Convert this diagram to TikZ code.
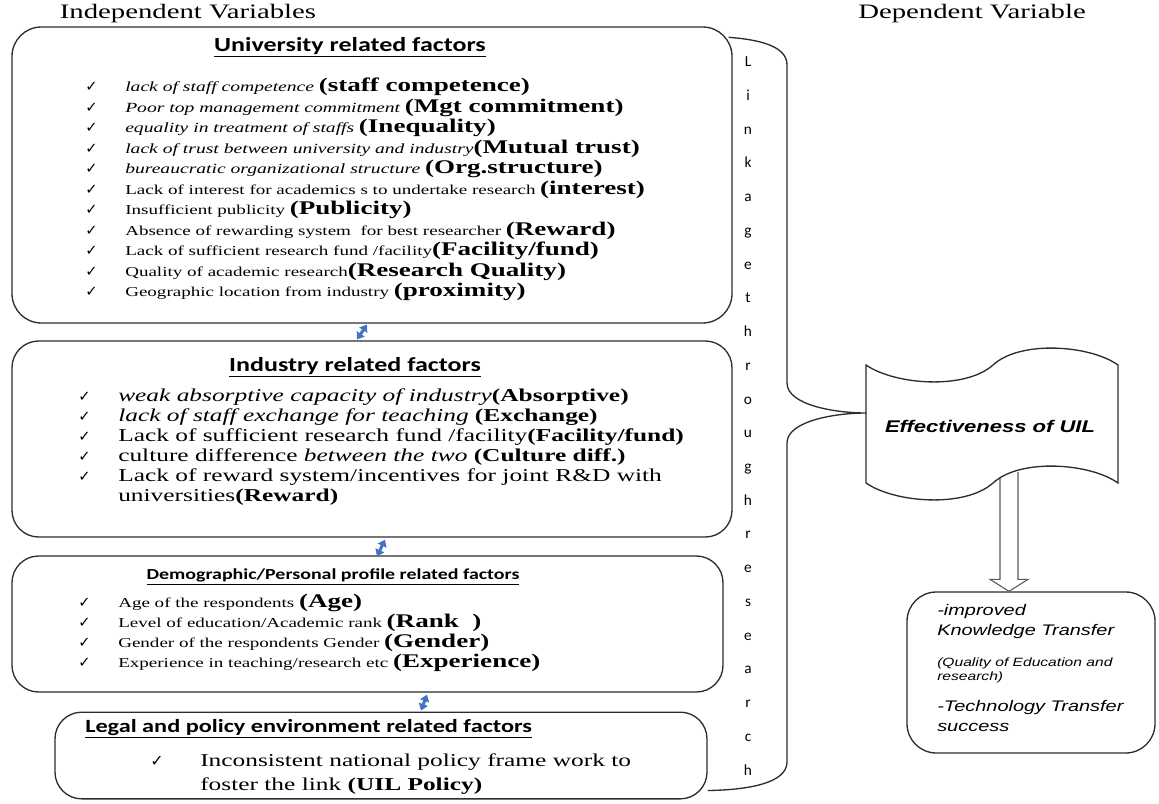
\documentclass[tikz,border=0pt]{standalone}
\usepackage{fontspec}
\setmainfont{Liberation Serif}[FakeStretch=1.4]
\newfontfamily\calibrifont{Carlito}[FakeStretch=1.3]
\newfontfamily\arialfont{Liberation Sans}[FakeStretch=1.3]
\newfontfamily\linkfont{Carlito}
\newfontfamily\tickfont{DejaVu Sans}
\usetikzlibrary{arrows.meta,calc}

\definecolor{linkblue}{RGB}{68,114,196}
\definecolor{boxline}{RGB}{45,45,45}

\newcommand{\ticksym}{\makebox[30pt][l]{\tickfont\fontsize{11}{11}\selectfont ✓}}
\newcommand{\smalltxt}[1]{{\fontsize{10.2}{12}\selectfont #1}}
\newcommand{\smallit}[1]{{\fontsize{10.5}{12}\selectfont\itshape #1}}
\newcommand{\boldtxt}[1]{{\fontsize{14.5}{17}\selectfont\bfseries #1}}
\newcommand{\midit}[1]{{\itshape #1}}
\newcommand{\midbf}[1]{{\bfseries #1}}

\tikzset{
  factorbox/.style={draw=boxline, line width=1pt, rounded corners=20pt, inner sep=0pt},
  itemtext/.style={anchor=west, inner sep=0pt, font=\fontsize{10}{12}\selectfont},
  miditem/.style={anchor=west, inner sep=0pt, font=\fontsize{13.6}{16}\selectfont},
  headtitle/.style={inner sep=0pt, font=\calibrifont\bfseries\fontsize{15}{18}\selectfont},
  subtitle/.style={inner sep=0pt, font=\calibrifont\bfseries\fontsize{11.5}{14}\selectfont},
  outtext/.style={anchor=west, inner sep=0pt, font=\arialfont\itshape\fontsize{11.5}{14}\selectfont},
  linkarrow/.style={draw=linkblue, line width=2.2pt, arrows={Triangle[length=5pt,width=7pt]-Triangle[length=5pt,width=7pt]}},
  hollowarrow/.style={draw=gray!70!black, line width=0.8pt, fill=white},
}

\begin{document}
\begin{tikzpicture}[x=0.75pt,y=0.75pt,yscale=-1,xscale=1]
\useasboundingbox (0,0) rectangle (1159,803);

% column headings
\node[inner sep=0pt, font=\fontsize{15.4}{18}\selectfont] (indep) at (188,14) {Independent Variables};
\node[inner sep=0pt, font=\fontsize{15.4}{18}\selectfont] (dep) at (972,14) {Dependent Variable};

% factor boxes
\node[factorbox, rounded corners=22pt, minimum width=540pt, minimum height=222pt] (univ) at (372,175) {};
\node[factorbox, minimum width=540pt, minimum height=147pt] (ind) at (372,439) {};
\node[factorbox, minimum width=533.25pt, minimum height=102pt] (dem) at (367.5,624) {};
\node[factorbox, minimum width=489pt, minimum height=65pt] (legal) at (381,755.5) {};

%University related factors
\node[headtitle] (univtitle) at (350,47) {\underline{University related factors}};
% Text Node
\node[itemtext] (u1) at (85,87) {\ticksym\smallit{lack of staff competence} \boldtxt{(staff competence)}};
\node[itemtext] (u2) at (85,107.5) {\ticksym\smallit{Poor top management commitment} \boldtxt{(Mgt commitment)}};
\node[itemtext] (u3) at (85,128) {\ticksym\smallit{equality in treatment of staffs} \boldtxt{(Inequality)}};
\node[itemtext] (u4) at (85,148.5) {\ticksym\smallit{lack of trust between university and industry}\boldtxt{(Mutual trust)}};
\node[itemtext] (u5) at (85,169) {\ticksym\smallit{bureaucratic organizational structure} \boldtxt{(Org.structure)}};
\node[itemtext] (u6) at (85,189.5) {\ticksym\smalltxt{Lack of interest for academics s to undertake research} \boldtxt{(interest)}};
\node[itemtext] (u7) at (85,210) {\ticksym\smalltxt{Insufficient publicity} \boldtxt{(Publicity)}};
\node[itemtext] (u8) at (85,230.5) {\ticksym\smalltxt{Absence of rewarding system\ \ for best researcher} \boldtxt{(Reward)}};
\node[itemtext] (u9) at (85,251) {\ticksym\smalltxt{Lack of sufficient research fund /facility}\boldtxt{(Facility/fund)}};
\node[itemtext] (u10) at (85,271.5) {\ticksym\smalltxt{Quality of academic research}\boldtxt{(Research Quality)}};
\node[itemtext] (u11) at (85,292) {\ticksym\smalltxt{Geographic location from industry} \boldtxt{(proximity)}};

%Industry related factors
\node[headtitle] (indtitle) at (355,367) {\underline{Industry related factors}};
% Text Node
\node[miditem] (i1) at (78,397) {\ticksym\midit{weak absorptive capacity of industry}\midbf{(Absorptive)}};
\node[miditem] (i2) at (78,417) {\ticksym\midit{lack of staff exchange for teaching} \midbf{(Exchange)}};
\node[miditem] (i3) at (78,437) {\ticksym Lack of sufficient research fund /facility\midbf{(Facility/fund)}};
\node[miditem] (i4) at (78,457) {\ticksym culture difference \midit{between the two} \midbf{(Culture diff.)}};
\node[miditem] (i5) at (78,477) {\ticksym Lack of reward system/incentives for joint R\&D with};
\node[miditem] (i6) at (118,497) {universities\midbf{(Reward)}};

%Demographic/Personal profile related factors
\node[subtitle] (demtitle) at (333,577) {\underline{Demographic/Personal profile related factors}};
% Text Node
\node[itemtext] (d1) at (78,603) {\ticksym\smalltxt{Age of the respondents} \boldtxt{(Age)}};
\node[itemtext] (d2) at (78,623) {\ticksym\smalltxt{Level of education/Academic rank} \boldtxt{(Rank\ \ )}};
\node[itemtext] (d3) at (78,643) {\ticksym\smalltxt{Gender of the respondents Gender} \boldtxt{(Gender)}};
\node[itemtext] (d4) at (78,663) {\ticksym\smalltxt{Experience in teaching/research etc} \boldtxt{(Experience)}};

%Legal and policy environment related factors
\node[subtitle, anchor=west, font=\calibrifont\bfseries\fontsize{14}{16}\selectfont] (legaltitle) at (85,729) {\underline{Legal and policy environment related factors}};
% Text Node
\node[miditem] (l1) at (150,762) {\makebox[37.5pt][l]{\tickfont\fontsize{12}{12}\selectfont ✓}Inconsistent national policy frame work to};
\node[miditem] (l2) at (200,786) {foster the link \midbf{(UIL Policy)}};

% blue links between the factor boxes
\draw[linkarrow] ($(ind.north)+(-15,-1)$) -- ($(univ.south)+(-5,1)$);
\draw[linkarrow] ($(ind.south)+(13,2)$) -- ($(dem.north)+(9.5,1)$);
\draw[linkarrow] ($(dem.south)+(59.5,2)$) -- ($(legal.north)+(40,-1)$);

% Linkage through research
\node[inner sep=0pt, align=center, font=\linkfont\fontsize{11.5}{25.3}\selectfont] (linkage) at (748,416)
  {L\\i\\n\\k\\a\\g\\e\\t\\h\\r\\o\\u\\g\\h\\r\\e\\s\\e\\a\\r\\c\\h};

% hollow arrow to the outcome
\node[factorbox, rounded corners=22pt, minimum width=186pt, minimum height=120.75pt] (outc) at (1031,672.5) {};
\coordinate (tapeB) at (1009,472);
\coordinate (tip) at (tapeB |- outc.north);
\draw[hollowarrow] ($(tapeB)+(-9,0)$) -- ($(tip)+(-9,-12)$) -- ($(tip)+(-19,-12)$) -- (tip)
  -- ($(tip)+(19,-12)$) -- ($(tip)+(9,-12)$) -- ($(tapeB)+(9,0)$);

%Shape: Tape
\draw[draw=boxline, line width=1pt, fill=white] (866,365) .. controls (895,385) and (965,390) .. (993,365)
  .. controls (1020,340) and (1090,345) .. (1118,365) -- (1118,483)
  .. controls (1090,463) and (1020,458) .. (993,483)
  .. controls (965,508) and (895,503) .. (866,483) -- cycle;
\coordinate (tapeL) at (866,413);
\node[inner sep=0pt, font=\arialfont\bfseries\itshape\fontsize{12.7}{15}\selectfont] (eff) at (990,426) {Effectiveness of UIL};

% bracket
\draw[draw=boxline, line width=1pt] ($(univ.north east)+(-4,11)$) .. controls (765,40) and (787,48) .. (787,65)
  -- (787,383) .. controls (787,405) and (835,413) .. (tapeL)
  .. controls (835,413) and (787,421) .. (787,443)
  -- (787,762) .. controls (787,784) and (745,790) .. ($(legal.south east)+(0,-9)$);

% Text Node
\node[outtext] (o1) at (937,612) {-improved};
\node[outtext] (o2) at (937,632) {Knowledge Transfer};
\node[outtext, font=\arialfont\itshape\fontsize{9}{11}\selectfont] (o3) at (937,663) {(Quality of Education and};
\node[outtext, font=\arialfont\itshape\fontsize{9}{11}\selectfont] (o4) at (937,677) {research)};
\node[outtext] (o5) at (937,708) {-Technology Transfer};
\node[outtext] (o6) at (937,727) {success};

\end{tikzpicture}
\end{document}
